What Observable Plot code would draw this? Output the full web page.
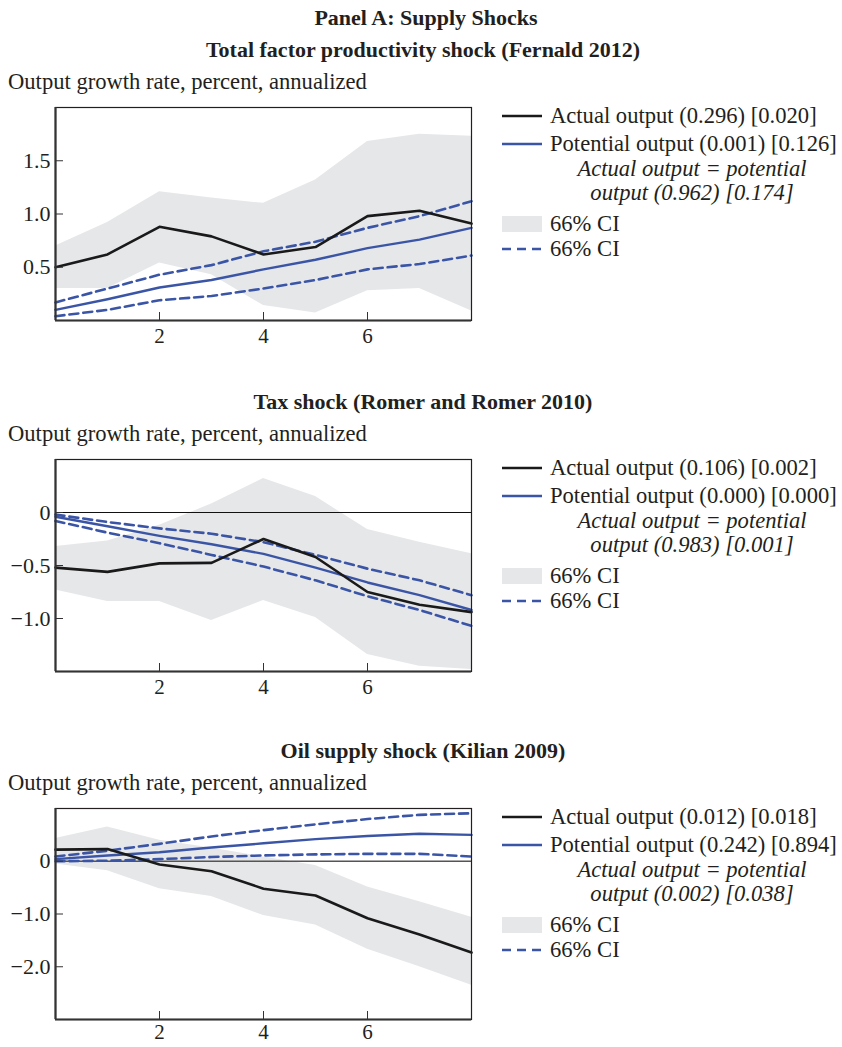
<!DOCTYPE html>
<html><head><meta charset="utf-8">
<script src="https://cdn.jsdelivr.net/npm/d3@7"></script>
<script src="https://cdn.jsdelivr.net/npm/@observablehq/plot@0.6"></script>
<style>
body{margin:0;background:#fff;}
#root{position:relative;width:842px;height:1047px;font-family:"Liberation Serif","Times New Roman",serif;color:#231f20;}
.t{position:absolute;white-space:nowrap;line-height:22px;height:22px;font-size:22.6px;}
.b{font-weight:bold;font-size:22px;}
.c{transform:translateX(-50%);}
.i{font-style:italic;}
svg.leg{position:absolute;overflow:visible;}
</style></head><body><div id="root"></div>
<script>
// ---------- data ----------
const steps = [0, 1, 2, 3, 4, 5, 6, 7, 8];
const xTicks = [2, 4, 6];

const mainTitle = "Panel A: Supply Shocks";
const panelTitles = [
  "Total factor productivity shock (Fernald 2012)",
  "Tax shock (Romer and Romer 2010)",
  "Oil supply shock (Kilian 2009)"
];
const yLabel = "Output growth rate, percent, annualized";
const ciLabel = "66% CI";

// Panel 1: TFP shock
const tfpActual    = [0.50, 0.62, 0.88, 0.79, 0.62, 0.69, 0.98, 1.03, 0.91];
const tfpPotential = [0.10, 0.20, 0.31, 0.38, 0.48, 0.57, 0.68, 0.76, 0.87];
const tfpPotHi     = [0.17, 0.30, 0.43, 0.52, 0.65, 0.74, 0.87, 0.98, 1.12];
const tfpPotLo     = [0.04, 0.10, 0.19, 0.23, 0.30, 0.38, 0.48, 0.53, 0.61];
const tfpCiHi      = [0.70, 0.92, 1.21, 1.15, 1.10, 1.32, 1.68, 1.75, 1.73];
const tfpCiLo      = [0.30, 0.30, 0.54, 0.43, 0.14, 0.07, 0.28, 0.30, 0.09];
const tfpYDomain   = [0, 2];
const tfpYTicks    = [0.5, 1.0, 1.5];
const tfpLegend    = ["Actual output (0.296) [0.020]", "Potential output (0.001) [0.126]",
                      "Actual output = potential", "output (0.962) [0.174]"];

// Panel 2: Tax shock
const taxActual    = [-0.52, -0.56, -0.48, -0.475, -0.25, -0.42, -0.75, -0.87, -0.94];
const taxPotential = [-0.04, -0.13, -0.22, -0.30, -0.39, -0.52, -0.66, -0.78, -0.92];
const taxPotHi     = [-0.02, -0.09, -0.15, -0.20, -0.28, -0.40, -0.53, -0.64, -0.78];
const taxPotLo     = [-0.08, -0.19, -0.29, -0.40, -0.51, -0.64, -0.79, -0.92, -1.07];
const taxCiHi      = [-0.32, -0.27, -0.12, 0.08, 0.32, 0.15, -0.16, -0.28, -0.39];
const taxCiLo      = [-0.73, -0.84, -0.84, -1.02, -0.83, -0.99, -1.34, -1.45, -1.48];
const taxYDomain   = [-1.5, 0.5];
const taxYTicks    = [0, -0.5, -1.0];
const taxLegend    = ["Actual output (0.106) [0.002]", "Potential output (0.000) [0.000]",
                      "Actual output = potential", "output (0.983) [0.001]"];

// Panel 3: Oil supply shock
const oilActual    = [0.22, 0.23, -0.06, -0.19, -0.52, -0.65, -1.08, -1.39, -1.73];
const oilPotential = [0.04, 0.11, 0.17, 0.26, 0.34, 0.42, 0.48, 0.52, 0.50];
const oilPotHi     = [0.09, 0.20, 0.33, 0.47, 0.59, 0.70, 0.80, 0.88, 0.91];
const oilPotLo     = [0.00, 0.01, 0.04, 0.08, 0.11, 0.13, 0.14, 0.14, 0.09];
const oilCiHi      = [0.43, 0.65, 0.40, 0.25, 0.08, -0.08, -0.49, -0.77, -1.06];
const oilCiLo      = [-0.05, -0.18, -0.52, -0.67, -1.03, -1.21, -1.67, -2.00, -2.35];
const oilYDomain   = [-3, 1];
const oilYTicks    = [0, -1.0, -2.0];
const oilLegend    = ["Actual output (0.012) [0.018]", "Potential output (0.242) [0.894]",
                      "Actual output = potential", "output (0.002) [0.038]"];

// ---------- build ----------
const BLUE = "#3b55a6", BLACK = "#1a1a1a", GRAY = "#e6e7e9";
const FONT = '"Liberation Serif","Times New Roman",serif';

const panels = [
  {title: panelTitles[0], actual: tfpActual, potential: tfpPotential, potHi: tfpPotHi, potLo: tfpPotLo,
   ciHi: tfpCiHi, ciLo: tfpCiLo, yDomain: tfpYDomain, yTicks: tfpYTicks, legend: tfpLegend, zero: null, frameTop: 107, fh: 213, xPad: 8},
  {title: panelTitles[1], actual: taxActual, potential: taxPotential, potHi: taxPotHi, potLo: taxPotLo,
   ciHi: taxCiHi, ciLo: taxCiLo, yDomain: taxYDomain, yTicks: taxYTicks, legend: taxLegend, zero: {stroke: "#111", w: 1}, frameTop: 459, fh: 212, xPad: 8},
  {title: panelTitles[2], actual: oilActual, potential: oilPotential, potHi: oilPotHi, potLo: oilPotLo,
   ciHi: oilCiHi, ciLo: oilCiLo, yDomain: oilYDomain, yTicks: oilYTicks, legend: oilLegend, zero: {stroke: "#555", w: 1.5}, frameTop: 808, fh: 211, xPad: 5}
];

const root = document.getElementById("root");
function addText(txt, x, cy, cls) {
  const d = document.createElement("div");
  d.className = "t " + (cls || "");
  d.textContent = txt;
  d.style.left = x + "px";
  d.style.top = (cy - 11) + "px";
  root.appendChild(d);
  return d;
}

addText(mainTitle, 426, 18, "b c");

const MT = 4, MB = 26;
const fmt = d => d === 0 ? "0" : d3.format(".1f")(d);

panels.forEach(p => {
  const rows = steps.map((s, i) => ({
    step: s, actual: p.actual[i], potential: p.potential[i],
    potHi: p.potHi[i], potLo: p.potLo[i], ciHi: p.ciHi[i], ciLo: p.ciLo[i]
  }));
  addText(p.title, 423, p.frameTop - 57, "b c");
  addText(yLabel, 8, p.frameTop - 25, "");

  const marks = [
    Plot.areaY(rows, {x: "step", y1: "ciLo", y2: "ciHi", fill: GRAY}),
  ];
  if (p.zero) marks.push(Plot.ruleY([0], {stroke: p.zero.stroke, strokeWidth: p.zero.w}));
  marks.push(
    Plot.lineY(rows, {x: "step", y: "potHi", stroke: BLUE, strokeWidth: 2.6, strokeDasharray: "9,5"}),
    Plot.lineY(rows, {x: "step", y: "potLo", stroke: BLUE, strokeWidth: 2.6, strokeDasharray: "9,5"}),
    Plot.lineY(rows, {x: "step", y: "potential", stroke: BLUE, strokeWidth: 2.4}),
    Plot.lineY(rows, {x: "step", y: "actual", stroke: BLACK, strokeWidth: 2.6}),
    Plot.frame({stroke: "#231f20", strokeWidth: 1.2}),
    Plot.ruleX([0], {stroke: "#333", strokeWidth: 2.2}),
    Plot.ruleY([p.yDomain[0]], {stroke: "#333", strokeWidth: 2.2}),
    Plot.axisX(xTicks, {tickSize: -8, tickFormat: () => "", stroke: "#333", label: null}),
    Plot.axisX(xTicks, {tickSize: 0, tickPadding: p.xPad, tickFormat: d => String(d), label: null, fontSize: 21}),
    Plot.axisY(p.yTicks, {tickSize: -8, tickFormat: () => "", stroke: "#333", label: null}),
    Plot.axisY(p.yTicks, {tickSize: 0, tickPadding: 5, tickFormat: fmt, label: null})
  );

  const svg = Plot.plot({
    width: 480, height: MT + p.fh + MB,
    marginLeft: 55, marginRight: 9, marginTop: MT, marginBottom: MB,
    x: {domain: [0, 8], label: null},
    y: {domain: p.yDomain, label: null},
    style: {fontFamily: FONT, fontSize: "22px", color: "#231f20", background: "transparent", overflow: "visible"},
    marks
  });
  svg.style.position = "absolute";
  svg.style.left = "0px";
  svg.style.top = (p.frameTop - MT) + "px";
  root.appendChild(svg);

  // legend
  const t = p.frameTop;
  const rowsY = [t + 9, t + 37, t + 62, t + 86, t + 117, t + 142];
  const ns = "http://www.w3.org/2000/svg";
  const lg = document.createElementNS(ns, "svg");
  lg.setAttribute("class", "leg");
  lg.setAttribute("width", 842); lg.setAttribute("height", 200);
  lg.style.left = "0px"; lg.style.top = t + "px";
  const line = (y, stroke, w, dash) => {
    const l = document.createElementNS(ns, "line");
    l.setAttribute("x1", 502); l.setAttribute("x2", 542);
    l.setAttribute("y1", y - t); l.setAttribute("y2", y - t);
    l.setAttribute("stroke", stroke); l.setAttribute("stroke-width", w);
    if (dash) l.setAttribute("stroke-dasharray", dash);
    lg.appendChild(l);
  };
  line(rowsY[0], BLACK, 2.6);
  line(rowsY[1], BLUE, 2.4);
  const r = document.createElementNS(ns, "rect");
  r.setAttribute("x", 502); r.setAttribute("width", 40);
  r.setAttribute("y", rowsY[4] - t - 8); r.setAttribute("height", 16);
  r.setAttribute("fill", GRAY);
  lg.appendChild(r);
  line(rowsY[5], BLUE, 2.6, "9,6");
  root.appendChild(lg);

  addText(p.legend[0], 550, rowsY[0], "");
  addText(p.legend[1], 550, rowsY[1], "");
  addText(p.legend[2], 692, rowsY[2], "i c");
  addText(p.legend[3], 692, rowsY[3], "i c");
  addText(ciLabel, 550, rowsY[4], "");
  addText(ciLabel, 550, rowsY[5], "");
});
</script></body></html>
